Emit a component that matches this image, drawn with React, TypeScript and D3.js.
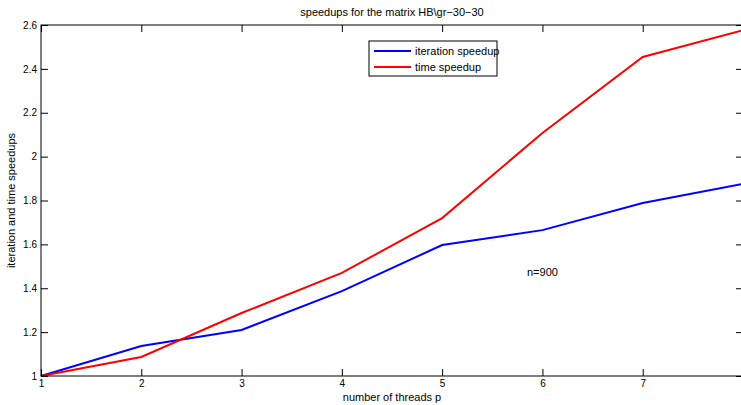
import { useRef, useEffect } from 'react'
import * as d3 from 'd3'

const WIDTH = 741
const HEIGHT = 405
const MARGIN = { top: 25, right: -2, bottom: 29, left: 41 }

const threads = [1, 2, 3, 4, 5, 6, 7, 8]
const iterationSpeedup = [1.0, 1.137, 1.21, 1.387, 1.597, 1.665, 1.789, 1.876]
const timeSpeedup = [1.0, 1.087, 1.287, 1.47, 1.72, 2.108, 2.454, 2.576]
const xTicks = [1, 2, 3, 4, 5, 6, 7]
const yTicks = [1, 1.2, 1.4, 1.6, 1.8, 2, 2.2, 2.4, 2.6]

const seriesList = [
  { name: 'iteration speedup', values: iterationSpeedup, color: '#0000ff' },
  { name: 'time speedup', values: timeSpeedup, color: '#ff0000' },
]

const FONT = '"Liberation Sans", Arial, Helvetica, sans-serif'

export default function App() {
  const svgRef = useRef<SVGSVGElement>(null)

  useEffect(() => {
    if (!svgRef.current) return
    const svg = d3.select(svgRef.current)
    svg.selectAll('*').remove()

    const innerWidth = WIDTH - MARGIN.left - MARGIN.right
    const innerHeight = HEIGHT - MARGIN.top - MARGIN.bottom

    const x = d3.scaleLinear().domain([1, 8]).range([0, innerWidth])
    const y = d3.scaleLinear().domain([1, 2.6]).range([innerHeight, 0])

    const g = svg.append('g').attr('transform', `translate(${MARGIN.left},${MARGIN.top})`)

    // data lines
    const line = d3
      .line<number>()
      .x((_, i) => x(threads[i]))
      .y((v) => y(v))

    for (const s of seriesList) {
      g.append('path')
        .datum(s.values)
        .attr('d', line)
        .attr('fill', 'none')
        .attr('stroke', s.color)
        .attr('stroke-width', 2)
        .attr('stroke-linejoin', 'miter')
    }

    // frame
    g.append('rect')
      .attr('width', innerWidth)
      .attr('height', innerHeight)
      .attr('fill', 'none')
      .attr('stroke', '#000')
      .attr('stroke-width', 1)

    // X axis (bottom, inward ticks + top mirror)
    g.append('g')
      .attr('transform', `translate(0,${innerHeight})`)
      .call(d3.axisBottom(x).tickValues(xTicks).tickSizeInner(-7).tickSizeOuter(0).tickPadding(4).tickFormat(d3.format('d')))
      .call((a) => {
        a.select('.domain').remove()
        a.selectAll('.tick line').attr('stroke', '#000')
        a.selectAll('text').attr('fill', '#000').style('font-size', '10px').style('font-family', FONT)
      })
    g.append('g')
      .call(d3.axisTop(x).tickValues(xTicks).tickSizeInner(-7).tickSizeOuter(0).tickFormat(() => ''))
      .call((a) => {
        a.select('.domain').remove()
        a.selectAll('.tick line').attr('stroke', '#000')
      })

    // Y axis (left, inward ticks + right mirror)
    g.append('g')
      .call(d3.axisLeft(y).tickValues(yTicks).tickSizeInner(-7).tickSizeOuter(0).tickPadding(4).tickFormat((v) => String(+(+v).toFixed(1))))
      .call((a) => {
        a.select('.domain').remove()
        a.selectAll('.tick line').attr('stroke', '#000')
        a.selectAll('text').attr('fill', '#000').style('font-size', '10px').style('font-family', FONT)
      })
    g.append('g')
      .attr('transform', `translate(${innerWidth},0)`)
      .call(d3.axisRight(y).tickValues(yTicks).tickSizeInner(-7).tickSizeOuter(0).tickFormat(() => ''))
      .call((a) => {
        a.select('.domain').remove()
        a.selectAll('.tick line').attr('stroke', '#000')
      })

    // title and labels
    svg.append('text')
      .attr('x', MARGIN.left + innerWidth / 2)
      .attr('y', 16)
      .attr('text-anchor', 'middle')
      .style('font-size', '11px')
      .style('font-family', FONT)
      .text('speedups for the matrix HB\\gr−30−30')

    svg.append('text')
      .attr('x', MARGIN.left + innerWidth / 2)
      .attr('y', 401)
      .attr('text-anchor', 'middle')
      .style('font-size', '11px')
      .style('font-family', FONT)
      .text('number of threads p')

    svg.append('text')
      .attr('transform', `translate(15,${MARGIN.top + innerHeight / 2}) rotate(-90)`)
      .attr('text-anchor', 'middle')
      .style('font-size', '11px')
      .style('font-family', FONT)
      .text('iteration and time speedups')

    svg.append('text')
      .attr('x', 527)
      .attr('y', 276)
      .style('font-size', '11px')
      .style('font-family', FONT)
      .text('n=900')

    // legend
    const lg = svg.append('g').attr('transform', 'translate(369,41)')
    lg.append('rect')
      .attr('width', 128)
      .attr('height', 35)
      .attr('fill', '#fff')
      .attr('stroke', '#000')
      .attr('stroke-width', 1)
    seriesList.forEach((s, i) => {
      const yy = 10 + i * 16
      lg.append('line')
        .attr('x1', 5)
        .attr('x2', 42)
        .attr('y1', yy)
        .attr('y2', yy)
        .attr('stroke', s.color)
        .attr('stroke-width', 2)
      lg.append('text')
        .attr('x', 46)
        .attr('y', yy + 4)
        .style('font-size', '11px')
        .style('font-family', FONT)
        .text(s.name)
    })
  }, [])

  return (
    <svg
      ref={svgRef}
      width={WIDTH}
      height={HEIGHT}
      style={{ position: 'absolute', left: 0, top: 0, background: '#fff' }}
    />
  )
}
